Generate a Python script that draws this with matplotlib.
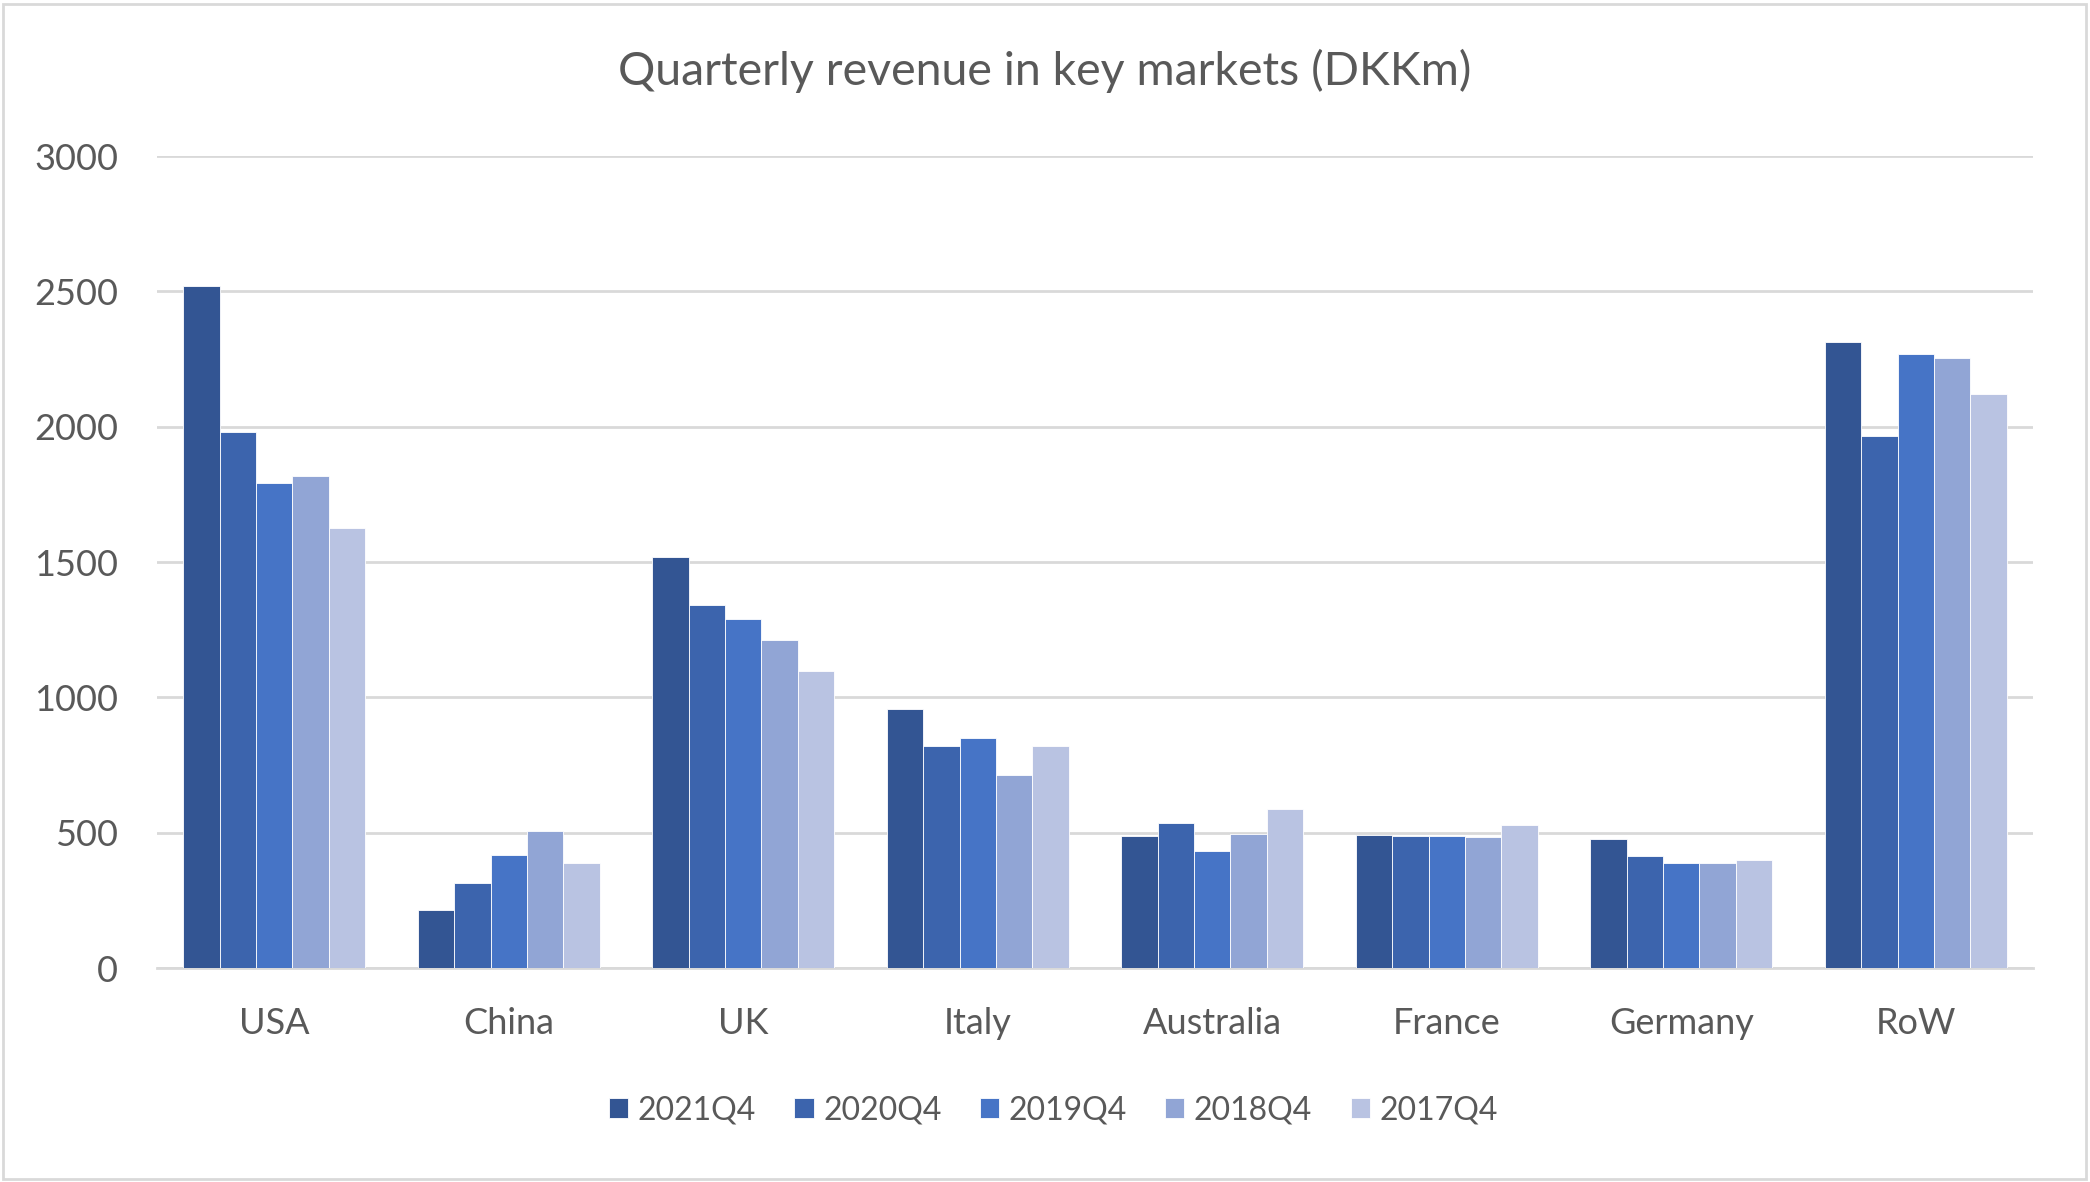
import numpy as np
import matplotlib
matplotlib.use("Agg")
import matplotlib.pyplot as plt
from matplotlib.patches import Rectangle

# -----------------------------
# data
# -----------------------------
markets = ["USA", "China", "UK", "Italy", "Australia", "France", "Germany", "RoW"]
periods = ["2021Q4", "2020Q4", "2019Q4", "2018Q4", "2017Q4"]

rev_2021q4 = [2520, 215, 1518, 957, 487, 493, 476, 2313]
rev_2020q4 = [1980, 315, 1342, 821, 534, 489, 412, 1967]
rev_2019q4 = [1792, 419, 1291, 848, 434, 489, 387, 2267]
rev_2018q4 = [1818, 508, 1212, 712, 495, 483, 387, 2252]
rev_2017q4 = [1627, 387, 1097, 819, 587, 529, 400, 2120]

colors = ["#335593", "#3C64AD", "#4674C6", "#91A5D5", "#B9C3E2"]

plt.rcParams["font.family"] = ["Lato", "DejaVu Sans"]

fig = plt.figure(figsize=(20.9, 11.82), dpi=100)
ax = fig.add_axes([157 / 2090, 1 - 968 / 1182, (2033 - 157) / 2090, (968 - 156) / 1182])

series = [rev_2021q4, rev_2020q4, rev_2019q4, rev_2018q4, rev_2017q4]
x = np.arange(len(markets))
w = 0.155
for i, (vals, lab, c) in enumerate(zip(series, periods, colors)):
    ax.bar(x + (i - 2) * w, vals, width=w, color=c, label=lab,
           edgecolor="white", linewidth=0.6, zorder=3)

ax.set_xlim(-0.5, len(markets) - 0.5)
ax.set_ylim(0, 3000)
ax.set_yticks(range(0, 3001, 500))
ax.grid(axis="y", color="#D9D9D9", linewidth=2, zorder=0)
for s in ["top", "right", "left"]:
    ax.spines[s].set_visible(False)
ax.spines["bottom"].set_color("#D9D9D9")
ax.spines["bottom"].set_linewidth(2)
ax.set_xticks(x)
ax.set_xticklabels(markets)
ax.tick_params(axis="both", length=0, labelsize=26, labelcolor="#595959")
ax.tick_params(axis="x", pad=28)
ax.tick_params(axis="y", pad=28)

fig.text(0.5, 1 - 71 / 1182, "Quarterly revenue in key markets (DKKm)",
         ha="center", va="center", fontsize=33.5, color="#595959")

leg = fig.legend(loc="center", bbox_to_anchor=(0.504, 1 - 1110 / 1182), ncol=5,
                 frameon=False, fontsize=23, handlelength=0.6, handleheight=0.6,
                 handletextpad=0.3, columnspacing=1.2, labelcolor="#595959")

fig.patches.append(Rectangle((3 / 2090, 3 / 1182), 1 - 7 / 2090, 1 - 7 / 1182,
                             transform=fig.transFigure, fill=False,
                             edgecolor="#D9D9D9", linewidth=2))

plt.savefig("out.png", dpi=100)
